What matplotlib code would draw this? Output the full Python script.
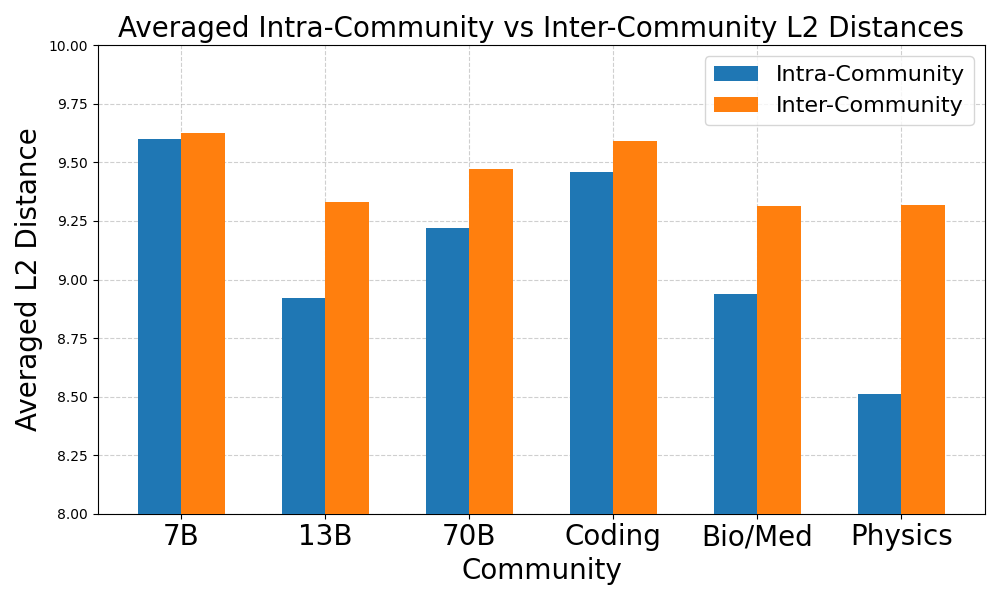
import numpy as np
import matplotlib.pyplot as plt

communities = ['7B', '13B', '70B', 'Coding', 'Bio/Med', 'Physics']
intra = [9.60, 8.92, 9.22, 9.46, 8.94, 8.51]
inter = [9.625, 9.33, 9.47, 9.59, 9.315, 9.32]

x = np.arange(len(communities))
width = 0.3

fig, ax = plt.subplots(figsize=(10, 6))
ax.bar(x - width / 2, intra, width, label='Intra-Community', color='#1f77b4', zorder=3)
ax.bar(x + width / 2, inter, width, label='Inter-Community', color='#ff7f0e', zorder=3)

ax.set_ylim(8.0, 10.0)
ax.set_yticks(np.arange(8.0, 10.01, 0.25))
ax.set_yticklabels([f'{v:.2f}' for v in np.arange(8.0, 10.01, 0.25)])
ax.set_xticks(x)
ax.set_xticklabels(communities, fontsize=20)
ax.set_xlabel('Community', fontsize=20)
ax.set_ylabel('Averaged L2 Distance', fontsize=20)
ax.set_title('Averaged Intra-Community vs Inter-Community L2 Distances', fontsize=20)
ax.grid(True, linestyle='--', alpha=0.6, zorder=0)
ax.legend(fontsize=16)

plt.tight_layout()
plt.savefig('out.png', dpi=100)
